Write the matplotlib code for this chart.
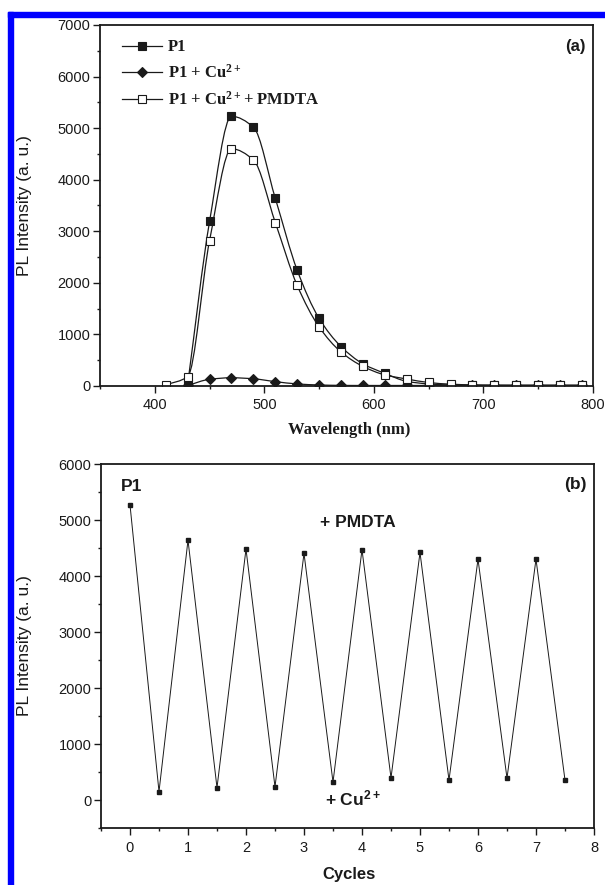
import matplotlib
matplotlib.use("Agg")
import matplotlib.pyplot as plt
import matplotlib.patches as patches
from matplotlib.path import Path
from matplotlib.lines import Line2D
from matplotlib.ticker import MultipleLocator

# ---- panel (a): PL spectra ----
wl = [410, 430, 450, 470, 490, 510, 530, 550, 570, 590, 610, 630, 650, 670,
      690, 710, 730, 750, 770, 790]
p1 = [None, 30, 3190, 5230, 5020, 3640, 2245, 1310, 765, 430, 245, 90, 40, 20,
      12, 10, 10, 10, 10, 10]
p1_cu = [None, 10, 130, 160, 140, 85, 40, 20, 12, 10, 10, 10, 10, 10,
         10, 10, 10, 10, 10, 10]
p1_cu_pmdta = [20, 180, 2820, 4600, 4385, 3170, 1950, 1145, 660, 380, 215, 136, 68, 35,
               22, 18, 16, 16, 16, 16]

# ---- panel (b): reversibility cycles ----
cycles = [0, 0.5, 1, 1.5, 2, 2.5, 3, 3.5, 4, 4.5, 5, 5.5, 6, 6.5, 7, 7.5]
cycle_pl = [5270, 150, 4640, 220, 4480, 235, 4405, 320, 4470, 395, 4420, 355,
            4300, 390, 4300, 355]

SANS = "Liberation Sans"
SERIF = "Liberation Serif"
INK = "#1a1a1a"


def pick(xs, ys):
    pts = [(x, y) for x, y in zip(xs, ys) if y is not None]
    return [p[0] for p in pts], [p[1] for p in pts]


def smooth_path(xs, ys):
    # monotone (Fritsch-Carlson) tangents, drawn as cubic Bezier segments
    n = len(xs)
    h = [xs[i + 1] - xs[i] for i in range(n - 1)]
    m = [(ys[i + 1] - ys[i]) / h[i] for i in range(n - 1)]
    t = [m[0]] + [0.0] * (n - 2) + [m[-1]]
    for i in range(1, n - 1):
        if m[i - 1] * m[i] > 0:
            w1 = 2 * h[i] + h[i - 1]
            w2 = h[i] + 2 * h[i - 1]
            t[i] = (w1 + w2) / (w1 / m[i - 1] + w2 / m[i])
    verts = [(xs[0], ys[0])]
    codes = [Path.MOVETO]
    for i in range(n - 1):
        d = h[i] / 3.0
        verts += [(xs[i] + d, ys[i] + t[i] * d),
                  (xs[i + 1] - d, ys[i + 1] - t[i + 1] * d),
                  (xs[i + 1], ys[i + 1])]
        codes += [Path.CURVE4] * 3
    return Path(verts, codes)


def style_axes(ax):
    for s in ax.spines.values():
        s.set_linewidth(1.3)
        s.set_color(INK)
    ax.tick_params(which="both", direction="out", top=False, right=False,
                   color=INK, width=1.0, labelsize=10.5, labelcolor=INK)
    ax.tick_params(which="major", length=5)
    ax.tick_params(which="minor", length=2.5)
    ax.tick_params(axis="x", pad=4)
    ax.tick_params(axis="y", pad=2)
    for lab in ax.get_xticklabels() + ax.get_yticklabels():
        lab.set_fontfamily(SANS)


fig = plt.figure(figsize=(6.05, 8.85), dpi=100)

# journal page frame
fig.patches.append(patches.Rectangle((8 / 605, 1 - 17 / 885), 1, 5 / 885,
                                     transform=fig.transFigure, color="#0000ff", zorder=0))
fig.patches.append(patches.Rectangle((8 / 605, 0), 5 / 605, 1 - 12 / 885,
                                     transform=fig.transFigure, color="#0000ff", zorder=0))

# ---------------- (a) ----------------
ax1 = fig.add_axes([100 / 605, 1 - 386 / 885, 493 / 605, 361 / 885])
series = [(p1, "s", INK), (p1_cu, "D", INK), (p1_cu_pmdta, "s", "white")]
labels = ["P1", r"P1 + Cu$\mathdefault{^{2+}}$", r"P1 + Cu$\mathdefault{^{2+}}$+ PMDTA"]
handles = []
for vals, mk, face in series:
    xs, ys = pick(wl, vals)
    ax1.add_patch(patches.PathPatch(smooth_path(xs, ys), fill=False,
                                    edgecolor=INK, lw=0.9))
    ms = 5.0 if mk == "D" else 5.8
    ax1.plot(xs, ys, ls="none", marker=mk, ms=ms, mfc=face, mec=INK, mew=0.8)
    handles.append(Line2D([], [], color=INK, lw=0.9, marker=mk, ms=ms,
                          mfc=face, mec=INK, mew=0.8))

ax1.set_xlim(350, 800)
ax1.set_ylim(0, 7000)
ax1.xaxis.set_major_locator(MultipleLocator(100))
ax1.xaxis.set_minor_locator(MultipleLocator(50))
ax1.yaxis.set_major_locator(MultipleLocator(1000))
ax1.yaxis.set_minor_locator(MultipleLocator(500))
ax1.set_xticks([400, 500, 600, 700, 800])
style_axes(ax1)

ax1.set_xlabel("Wavelength (nm)", fontfamily=SERIF, fontweight="bold", fontsize=12, color=INK)
ax1.xaxis.set_label_coords(0.505, -0.1)
ax1.set_ylabel("PL Intensity (a. u.)", fontfamily=SANS, fontsize=12.5, color=INK)
ax1.yaxis.set_label_coords(-0.138, 0.5)

leg = ax1.legend(handles, labels, loc="upper left", bbox_to_anchor=(0.045, 0.96),
                 frameon=False, numpoints=1, handlelength=2.4, handletextpad=0.35,
                 labelspacing=0.52, borderpad=0, borderaxespad=0,
                 prop={"family": SERIF, "weight": "bold", "size": 12})
for t in leg.get_texts():
    t.set_color(INK)

ax1.text(0.985, 0.94, "(a)", transform=ax1.transAxes, ha="right", va="center",
         fontfamily=SANS, fontweight="bold", fontsize=12, color=INK)

# ---------------- (b) ----------------
ax2 = fig.add_axes([101 / 605, 1 - 828 / 885, 493 / 605, 364 / 885])
ax2.plot(cycles, cycle_pl, color=INK, lw=0.7, marker="s", ms=3, mfc=INK, mec=INK)
ax2.set_xlim(-0.5, 8)
ax2.set_ylim(-500, 6000)
ax2.xaxis.set_major_locator(MultipleLocator(1))
ax2.xaxis.set_minor_locator(MultipleLocator(0.5))
ax2.yaxis.set_major_locator(MultipleLocator(1000))
ax2.yaxis.set_minor_locator(MultipleLocator(500))
ax2.set_yticks([0, 1000, 2000, 3000, 4000, 5000, 6000])
style_axes(ax2)

ax2.set_xlabel("Cycles", fontfamily=SANS, fontweight="bold", fontsize=12, color=INK)
ax2.xaxis.set_label_coords(0.503, -0.108)
ax2.set_ylabel("PL Intensity (a. u.)", fontfamily=SANS, fontsize=12.5, color=INK)
ax2.yaxis.set_label_coords(-0.14, 0.5)

bold = dict(fontfamily=SANS, fontweight="bold", fontsize=12.5, color=INK)
ax2.text(0.985, 0.945, "(b)", transform=ax2.transAxes, ha="right", va="center", **bold)
ax2.text(0.03, 5600, "P1", ha="center", va="center", **bold)
ax2.text(3.93, 4950, "+ PMDTA", ha="center", va="center", **bold)
ax2.text(3.85, 20, r"+ Cu$\mathdefault{^{2+}}$", ha="center", va="center", **bold)

fig.savefig("out.png", dpi=100)
